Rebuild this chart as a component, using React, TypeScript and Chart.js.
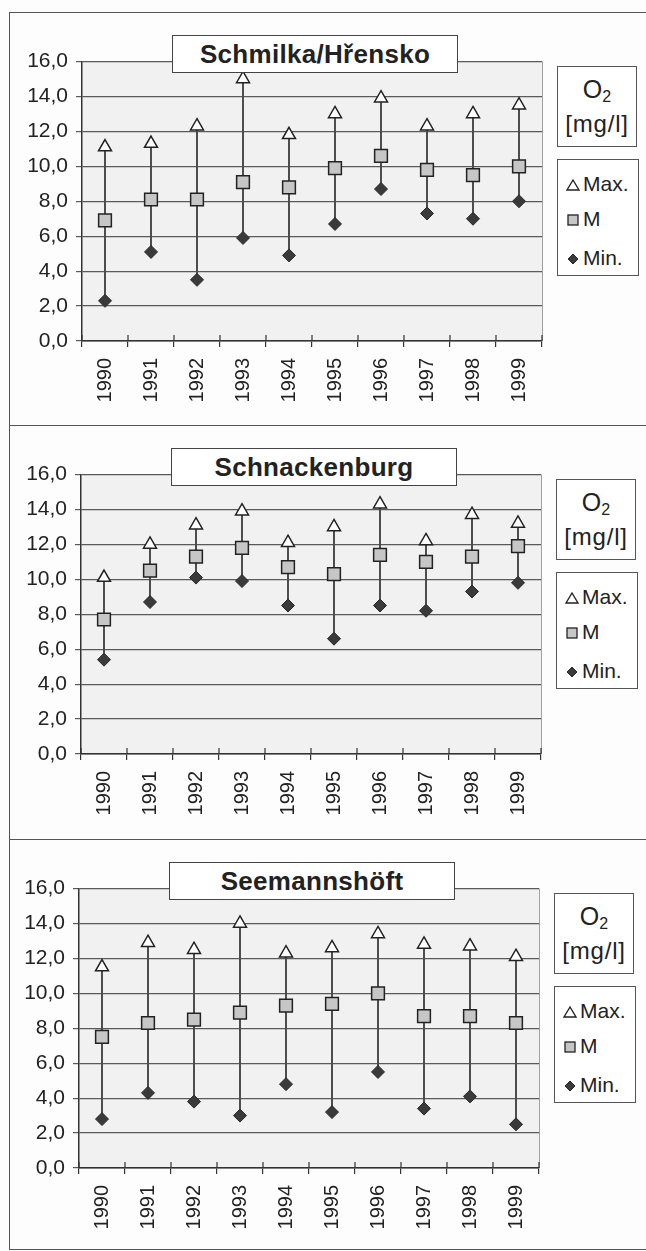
import React, { useEffect, useRef } from 'react';
import { Chart, registerables } from 'chart.js';

Chart.register(...registerables);

// ---------- data ----------
const years = ['1990', '1991', '1992', '1993', '1994', '1995', '1996', '1997', '1998', '1999'];
const yTickValues = [0, 2, 4, 6, 8, 10, 12, 14, 16];
const stationNames = ['Schmilka/Hřensko', 'Schnackenburg', 'Seemannshöft'];
const legendLabels = ['Max.', 'M', 'Min.'];
const unitLine1 = 'O';
const unitSub = '2';
const unitLine2 = '[mg/l]';

const schmilkaMax = [11.1, 11.3, 12.3, 15.0, 11.8, 13.0, 13.9, 12.3, 13.0, 13.5];
const schmilkaMean = [6.9, 8.1, 8.1, 9.1, 8.8, 9.9, 10.6, 9.8, 9.5, 10.0];
const schmilkaMin = [2.3, 5.1, 3.5, 5.9, 4.9, 6.7, 8.7, 7.3, 7.0, 8.0];

const schnackenburgMax = [10.1, 12.0, 13.1, 13.9, 12.1, 13.0, 14.3, 12.2, 13.7, 13.2];
const schnackenburgMean = [7.7, 10.5, 11.3, 11.8, 10.7, 10.3, 11.4, 11.0, 11.3, 11.9];
const schnackenburgMin = [5.4, 8.7, 10.1, 9.9, 8.5, 6.6, 8.5, 8.2, 9.3, 9.8];

const seemannMax = [11.5, 12.9, 12.5, 14.0, 12.3, 12.6, 13.4, 12.8, 12.7, 12.1];
const seemannMean = [7.5, 8.3, 8.5, 8.9, 9.3, 9.4, 10.0, 8.7, 8.7, 8.3];
const seemannMin = [2.8, 4.3, 3.8, 3.0, 4.8, 3.2, 5.5, 3.4, 4.1, 2.5];

const maxSeries = [schmilkaMax, schnackenburgMax, seemannMax];
const meanSeries = [schmilkaMean, schnackenburgMean, seemannMean];
const minSeries = [schmilkaMin, schnackenburgMin, seemannMin];

// ---------- layout ----------
const PANEL_TOPS = [12, 425, 839];
const PANEL_DX = [0, -1, -3];
const PANEL_H = 413;
const FONT = '"Liberation Sans", Arial, sans-serif';

const framePlugin = {
  id: 'frameExtras',
  beforeDraw(chart: any) {
    const { ctx, chartArea: a } = chart;
    ctx.save();
    ctx.fillStyle = '#f1f1f1';
    ctx.fillRect(a.left, a.top, a.right - a.left, a.bottom - a.top);
    ctx.restore();
  },
  afterDraw(chart: any) {
    const { ctx, chartArea: a, scales } = chart;
    const xs = scales.x;
    ctx.save();
    ctx.strokeStyle = '#a0a0a0';
    ctx.lineWidth = 1;
    ctx.beginPath();
    ctx.moveTo(a.right + 0.5, a.top);
    ctx.lineTo(a.right + 0.5, a.bottom);
    ctx.stroke();
    ctx.strokeStyle = '#333';
    ctx.lineWidth = 1.2;
    ctx.beginPath();
    const n = chart.data.labels.length;
    for (let i = 0; i <= n; i++) {
      const px = xs.getPixelForValue(i - 0.5);
      ctx.moveTo(px, a.bottom);
      ctx.lineTo(px, a.bottom - 6);
    }
    ctx.stroke();
    ctx.restore();
  },
};

function Panel({ idx }: { idx: number }) {
  const ref = useRef<HTMLCanvasElement>(null);
  const top = PANEL_TOPS[idx];
  const dx = PANEL_DX[idx];
  useEffect(() => {
    const plotLeft = 82 + dx;
    const plotRight = 542 + dx;
    const mx = maxSeries[idx];
    const mn = minSeries[idx];
    const me = meanSeries[idx];
    const chart = new Chart(ref.current as HTMLCanvasElement, {
      type: 'bar',
      data: {
        labels: years,
        datasets: [
          {
            type: 'bar',
            data: mn.map((v, i) => [v, mx[i]]) as any,
            backgroundColor: '#4a4a4a',
            barThickness: 1.3,
            order: 10,
          } as any,
          {
            type: 'line',
            data: mx,
            showLine: false,
            pointStyle: 'triangle',
            pointRadius: 7.5,
            pointBackgroundColor: '#ffffff',
            pointBorderColor: '#222',
            pointBorderWidth: 1.5,
            order: 2,
          } as any,
          {
            type: 'line',
            data: me,
            showLine: false,
            pointStyle: 'rect',
            pointRadius: 9,
            pointBackgroundColor: '#c6c6c6',
            pointBorderColor: '#222',
            pointBorderWidth: 1.5,
            order: 1,
          } as any,
          {
            type: 'line',
            data: mn,
            showLine: false,
            pointStyle: 'rectRot',
            pointRadius: 6.5,
            pointBackgroundColor: '#3a3a3a',
            pointBorderColor: '#2a2a2a',
            pointBorderWidth: 1,
            order: 0,
          } as any,
        ],
      },
      options: {
        animation: false,
        responsive: false,
        maintainAspectRatio: false,
        events: [],
        layout: { padding: { top: 49.5, right: 646 - plotRight, bottom: 10, left: 0 } },
        scales: {
          x: {
            type: 'category',
            offset: true,
            afterFit: (s: any) => { s.height = 74; },
            grid: { offset: true, drawOnChartArea: false, drawTicks: true, tickLength: 6, color: '#333', lineWidth: 1.2 },
            border: { display: true, color: '#333', width: 1.5 },
            ticks: { minRotation: 90, maxRotation: 90, autoSkip: false, padding: 11, color: '#222', font: { family: FONT, size: 20 } },
          },
          y: {
            min: 0,
            max: 16,
            afterFit: (s: any) => { s.width = plotLeft; },
            afterBuildTicks: (s: any) => { s.ticks = yTickValues.map((v) => ({ value: v })); },
            grid: { color: '#5a5a5a', lineWidth: 1.2, tickLength: 6, drawTicks: true },
            border: { display: true, color: '#333', width: 1.5 },
            ticks: {
              padding: 8,
              color: '#222',
              font: { family: FONT, size: 21 },
              callback: (v: any) => Number(v).toFixed(1).replace('.', ','),
            },
          },
        },
        plugins: { legend: { display: false }, tooltip: { enabled: false }, title: { display: false } },
      } as any,
      plugins: [framePlugin],
    });
    return () => chart.destroy();
  }, [idx]);

  const boxLeft = 557 + dx;
  return (
    <div style={{ position: 'absolute', left: 0, top, width: 646, height: PANEL_H }}>
      <canvas ref={ref} width={646} height={PANEL_H} style={{ position: 'absolute', left: 0, top: 0, display: 'block' }} />
      <div style={{ position: 'absolute', left: 9, top: 0, width: 637, height: 0, borderTop: '1.5px solid #555' }} />
      <div
        style={{
          position: 'absolute', left: 172 + dx, top: 23, width: 286, height: 38, boxSizing: 'border-box',
          border: '1.5px solid #444', background: '#fff', display: 'flex', alignItems: 'center', justifyContent: 'center',
          fontFamily: FONT, fontWeight: 'bold', fontSize: 26, color: '#222', letterSpacing: 0.3,
        }}
      >
        {stationNames[idx]}
      </div>
      <div
        style={{
          position: 'absolute', left: boxLeft, top: 54, width: 80, height: 81, boxSizing: 'border-box',
          border: '1.5px solid #555', background: '#fff', fontFamily: FONT, color: '#222', textAlign: 'center',
        }}
      >
        <div style={{ position: 'absolute', left: 0, right: 0, top: 9, fontSize: 25, lineHeight: '26px' }}>
          {unitLine1}<sub style={{ fontSize: 16, verticalAlign: '-4px' }}>{unitSub}</sub>
        </div>
        <div style={{ position: 'absolute', left: 0, right: 0, top: 44, fontSize: 24, lineHeight: '26px', letterSpacing: 0.8 }}>
          {unitLine2}
        </div>
      </div>
      <div
        style={{
          position: 'absolute', left: boxLeft, top: 147, width: 82, height: 117, boxSizing: 'border-box',
          border: '1.5px solid #555', background: '#fff', fontFamily: FONT, color: '#222', fontSize: 21,
        }}
      >
        <svg width={24} height={114} style={{ position: 'absolute', left: 4, top: 0 }}>
          <polygon points="5,30 11,20 17,30" fill="#fff" stroke="#222" strokeWidth={1.4} />
          <rect x={6} y={55} width={10} height={10} fill="#c6c6c6" stroke="#222" strokeWidth={1.3} />
          <polygon points="11,94 16,99 11,104 6,99" fill="#3a3a3a" stroke="#2a2a2a" strokeWidth={1} />
        </svg>
        {legendLabels.map((t, i) => (
          <div key={t} style={{ position: 'absolute', left: 25, top: [12, 47, 86][i], lineHeight: '24px' }}>{t}</div>
        ))}
      </div>
    </div>
  );
}

export default function App() {
  return (
    <div style={{ position: 'absolute', left: 0, top: 0, width: 646, height: 1251, overflow: 'hidden', background: '#fdfdfd' }}>
      <Panel idx={0} />
      <Panel idx={1} />
      <Panel idx={2} />
      <div style={{ position: 'absolute', left: 9, top: 12, width: 0, height: 1238, borderLeft: '1.5px solid #555' }} />
      <div style={{ position: 'absolute', left: 9, top: 1249, width: 637, height: 0, borderTop: '1.5px solid #555' }} />
    </div>
  );
}
